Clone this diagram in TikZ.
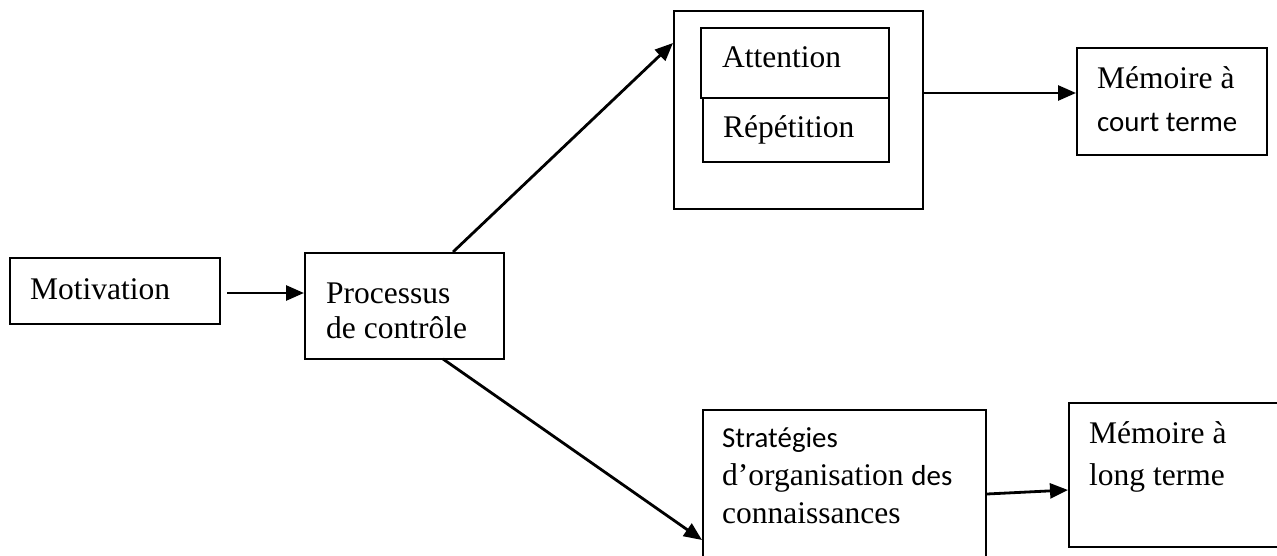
\documentclass[tikz,border=0pt]{standalone}
\usepackage{fontspec}
\setmainfont{Liberation Serif}
\newfontfamily\calibrifont{Carlito}
\usetikzlibrary{arrows.meta}
\begin{document}
\begin{tikzpicture}[x=1pt,y=-1pt,
  box/.style={draw,line width=2.4pt,rectangle,inner sep=0pt,anchor=north west},
  txt/.style={inner sep=0pt,anchor=base west,font=\fontsize{31.5}{36}\selectfont},
  ctxt/.style={inner sep=0pt,anchor=base west,font=\calibrifont\fontsize{28.9}{34}\selectfont},
  arr/.style={line width=2.8pt,-{Triangle[length=18pt,width=15pt]}}]
\useasboundingbox (0,0) rectangle (1277,556);
\clip (0,0) rectangle (1277,556);
\fill[white] (0,0) rectangle (1277,556);
% boxes
\node[box,minimum width=210pt,minimum height=66pt] (mot) at (9,257) {};
\node[box,minimum width=199pt,minimum height=106pt] (proc) at (304,252) {};
\node[box,minimum width=249pt,minimum height=198pt] (outer) at (673,10) {};
\node[box,minimum width=188pt,minimum height=70pt] (att) at (700,27) {};
\node[box,minimum width=186pt,minimum height=64pt] (rep) at (702,97) {};
\node[box,minimum width=190pt,minimum height=107pt] (mct) at (1076,47) {};
\node[box,minimum width=283pt,minimum height=200pt] (strat) at (702,409) {};
\node[box,minimum width=215pt,minimum height=144pt] (mlt) at (1068,402) {};
% texts
\node[txt] (tmot) at (30,299) {Motivation};
\node[txt] (tproc1) at (326,303) {Processus};
\node[txt] (tproc2) at (326,338) {de contrôle};
\node[txt] (tatt) at (722,68) {Attention};
\node[txt] (trep) at (723,138) {Répétition};
\node[txt] (tmct1) at (1097,89) {Mémoire à};
\node[ctxt] (tmct2) at (1097,132) {court terme};
\node[ctxt] (tstrat1) at (722,447) {Stratégies};
\node[txt] (tstrat2) at (722,485) {d’organisation {\calibrifont\fontsize{28.9}{34}\selectfont des}};
\node[txt] (tstrat3) at (722,523) {connaissances};
\node[txt] (tmlt1) at (1089,443) {Mémoire à};
\node[txt] (tmlt2) at (1089,485) {long terme};
% connector anchors
\coordinate (c1) at (227,293);
\coordinate (c2) at (453,252);
\coordinate (c3) at (443,359);
\coordinate (c4) at (987,494);
\draw[arr] (c1) -- (c1 -| proc.west);
\draw[arr] (c2) -- (outer.west |- 0,43);
\draw[arr] (c3) -- (strat.west |- 0,540);
\draw[arr] (outer.east |- 0,93) -- (mct.west |- 0,93);
\draw[arr] (c4) -- (mlt.west |- 0,490);
\end{tikzpicture}
\end{document}
